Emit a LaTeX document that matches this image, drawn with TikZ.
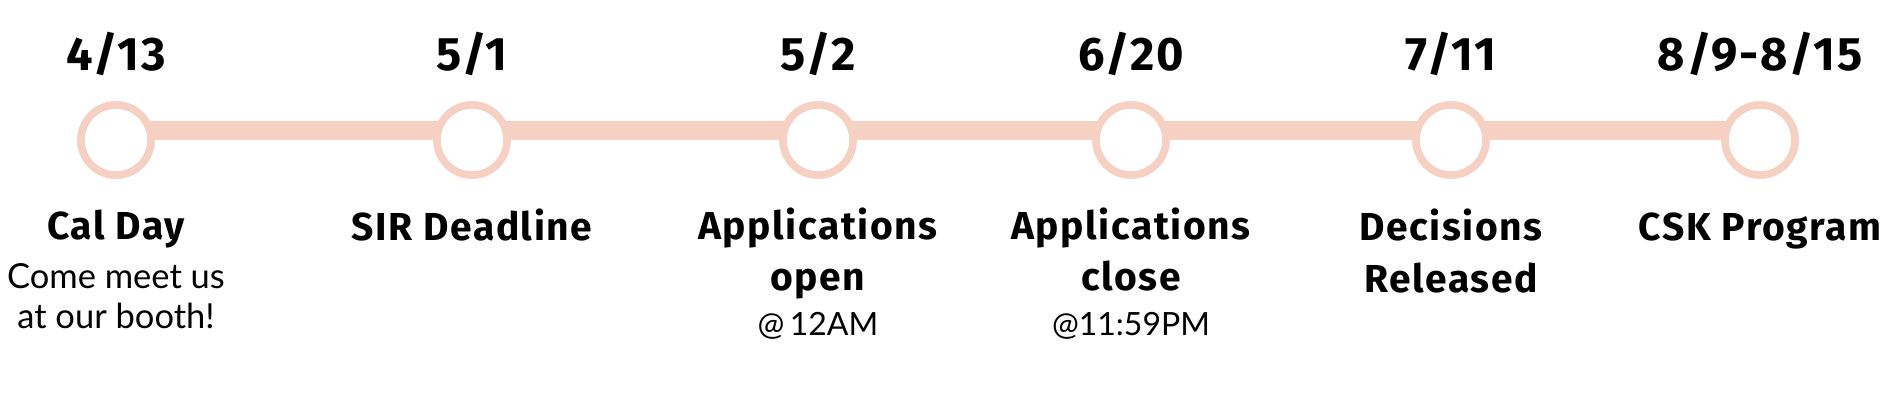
\documentclass[tikz,border=0pt]{standalone}
\usepackage{fontspec}
\setmainfont{Fira Sans}
\newfontfamily\lblfont{Fira Sans}[LetterSpace=4]
\newfontfamily\subfont{Lato}
\definecolor{peach}{HTML}{F5D0C3}
\begin{document}
\begin{tikzpicture}[x=1pt,y=-1pt,
  ring/.style={circle,draw=peach,line width=7.5pt,fill=white,minimum size=70pt,inner sep=0pt},
  bar/.style={draw=peach,line width=19pt},
  date/.style={anchor=base,font=\fontsize{47}{47}\selectfont\lblfont\bfseries,inner sep=0pt},
  lbl/.style={anchor=base,font=\fontsize{39}{39}\selectfont\lblfont\bfseries,inner sep=0pt},
  sub/.style={anchor=base,font=\fontsize{32}{32}\selectfont\subfont,inner sep=0pt},
  note/.style={anchor=base,font=\fontsize{34.5}{34.5}\selectfont\subfont,inner sep=0pt}]
\fill[white] (0,0) rectangle (1886,400);
\useasboundingbox (0,0) rectangle (1886,400);
% circles
\node[ring] (c1) at (116,140) {};
\node[ring] (c2) at (472,140) {};
\node[ring] (c3) at (818,140) {};
\node[ring] (c4) at (1131,140) {};
\node[ring] (c5) at (1451,140) {};
\node[ring] (c6) at (1760,140) {};
\draw[bar] ([yshift=9.5pt]c1.center) -- ([yshift=9.5pt]c6.center);
\foreach \n in {c1,c2,c3,c4,c5,c6} {\node[ring] at (\n.center) {};}
% dates
\node[date] (d1) at (116,70) {4/13};
\node[date] (d2) at (472,70) {5/1};
\node[date] (d3) at (818,70) {5/2};
\node[date] (d4) at (1131,70) {6/20};
\node[date] (d5) at (1451,70) {7/11};
\node[date] (d6) at (1760,70) {8/9-8/15};
% labels
\node[lbl] (l1) at (116,239) {Cal Day};
\node[note] (s1a) at (116,288) {Come meet us};
\node[note] (s1b) at (116,328) {at our booth!};
\node[lbl] (l2) at (472,240) {SIR Deadline};
\node[lbl] (l3a) at (818,239) {Applications};
\node[lbl] (l3b) at (818,290) {open};
\node[sub] (s3) at (818,335) {@\,12AM};
\node[lbl] (l4a) at (1131,239) {Applications};
\node[lbl] (l4b) at (1131,290) {close};
\node[sub] (s4) at (1131,335) {@11:59PM};
\node[lbl] (l5a) at (1451,240) {Decisions};
\node[lbl] (l5b) at (1451,292) {Released};
\node[lbl] (l6) at (1760,240) {CSK Program};
\end{tikzpicture}
\end{document}
